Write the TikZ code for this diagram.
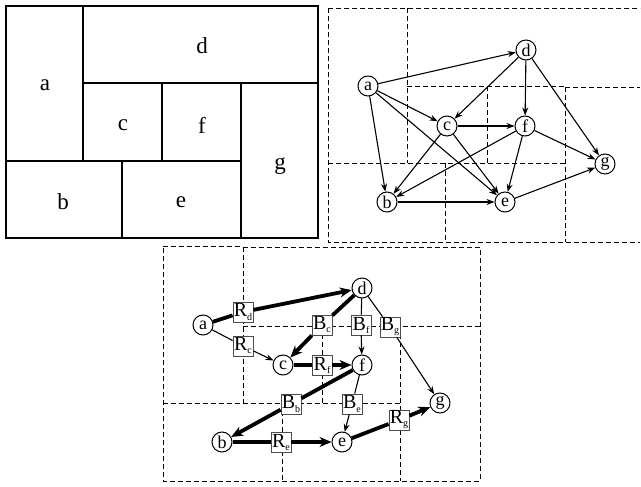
\documentclass[tikz,border=0pt]{standalone}
\usepackage{fontspec}
\setmainfont{Liberation Serif}
\usetikzlibrary{arrows.meta}
\newcommand\mylab[2]{#1\raisebox{-3pt}{\fontsize{10}{10}\selectfont #2}}
\begin{document}
\begin{tikzpicture}[x=1pt,y=-1pt,
  plan/.style={line width=2.6pt, line cap=rect},
  dline/.style={dash pattern=on 5pt off 3pt, line width=0.9pt},
  plabel/.style={font=\fontsize{23}{23}\selectfont, inner sep=0pt},
  vtx/.style={circle, draw, line width=1pt, fill=white, inner sep=0pt, minimum size=20pt, font=\fontsize{18}{18}\selectfont},
  edg/.style={line width=1.1pt, -{Stealth[length=8pt,width=6pt]}},
  thin/.style={line width=1.1pt},
  thk/.style={line width=3.8pt, -{Stealth[length=12pt,width=10pt]}},
  thkn/.style={line width=3.8pt},
  lbl/.style={draw=black!70, fill=white, line width=0.8pt, minimum width=20pt, minimum height=20pt, inner sep=0.5pt, font=\fontsize{20}{20}\selectfont}
]
\useasboundingbox (0,0) rectangle (641,487);

% ---- floorplan (top left)
\draw[plan] (6,6) rectangle (318,238);
\draw[plan] (83,6) -- (83,161);
\draw[plan] (83,83) -- (318,83);
\draw[plan] (6,161) -- (241,161);
\draw[plan] (162,83) -- (162,161);
\draw[plan] (241,83) -- (241,238);
\draw[plan] (122,161) -- (122,238);
\node[plabel] (pa) at (45,85) {a};
\node[plabel] (pd) at (202,46) {d};
\node[plabel] (pc) at (123,125) {c};
\node[plabel] (pf) at (202,125) {f};
\node[plabel] (pg) at (280,166) {g};
\node[plabel] (pb) at (63,202) {b};
\node[plabel] (pe) at (181,202) {e};

% ---- dashed plan (top right)
\draw[dline] (328,8) -- (640,8);
\draw[dline] (328,8) -- (328,242) -- (640,242);
\draw[dline] (407,8) -- (407,163);
\draw[dline] (407,86) -- (565,86);
\draw[dline] (565,87) -- (640,87);
\draw[dline] (487,86) -- (487,163);
\draw[dline] (328,163) -- (565,163);
\draw[dline] (445,163) -- (445,242);
\draw[dline] (565,87) -- (565,242);

% ---- graph (top right)
\node[vtx] (ta) at (368,86) {a};
\node[vtx] (td) at (526,50) {d};
\node[vtx] (tc) at (447,126) {c};
\node[vtx] (tf) at (525,126) {f};
\node[vtx] (tg) at (605,164) {g};
\node[vtx] (tb) at (387,202) {b};
\node[vtx] (te) at (505,202) {e};
\draw[edg] (ta) -- (td);
\draw[edg] (ta) -- (tc);
\draw[edg] (ta) -- (te);
\draw[edg] (ta) -- (tb);
\draw[edg] (td) -- (tc);
\draw[edg] (td) -- (tf);
\draw[edg] (td) -- (tg);
\draw[edg] (tc) -- (tf);
\draw[edg] (tc) -- (tb);
\draw[edg] (tc) -- (te);
\draw[edg] (tf) -- (tb);
\draw[edg] (tf) -- (te);
\draw[edg] (tf) -- (tg);
\draw[edg] (tb) -- (te);
\draw[edg] (te) -- (tg);

% ---- dashed plan (bottom)
\draw[dline] (163,246) -- (243,246);
\draw[dline] (243,247) -- (480,247) -- (480,481) -- (163,481) -- (163,246);
\draw[dline] (243,247) -- (243,403);
\draw[dline] (243,326) -- (480,326);
\draw[dline] (322,326) -- (322,403);
\draw[dline] (163,403) -- (400,403);
\draw[dline] (282,403) -- (282,481);
\draw[dline] (400,326) -- (400,481);

% ---- graph (bottom)
\node[vtx] (ba) at (203,325) {a};
\node[vtx] (bd) at (362,288) {d};
\node[vtx] (bc) at (283,365) {c};
\node[vtx] (bf) at (362,365) {f};
\node[vtx] (bg) at (440,403) {g};
\node[vtx] (bb) at (222,442) {b};
\node[vtx] (be) at (342,442) {e};

\node[lbl] (Rd) at (243,312) {\mylab{R}{d}};
\node[lbl] (Rc) at (243,346) {\mylab{R}{c}};
\node[lbl] (Bc) at (322,325) {\mylab{B}{c}};
\node[lbl] (Bf) at (361,325) {\mylab{B}{f}};
\node[lbl] (Bg) at (390,327) {\mylab{B}{g}};
\node[lbl] (Rf) at (322,365) {\mylab{R}{f}};
\node[lbl] (Bb) at (291,404) {\mylab{B}{b}};
\node[lbl] (Be) at (352,404) {\mylab{B}{e}};
\node[lbl] (Re) at (281,442) {\mylab{R}{e}};
\node[lbl] (Rg) at (399,420) {\mylab{R}{g}};

\draw[thkn] (ba) -- (Rd);
\draw[thk] (Rd) -- (bd);
\draw[thin] (ba) -- (Rc);
\draw[edg] (Rc) -- (bc);
\draw[thkn] (bd) -- (Bc);
\draw[thk] (Bc) -- (bc);
\draw[thin] (bd) -- (Bf);
\draw[edg] (Bf) -- (bf);
\draw[thin] (bd) -- (Bg);
\draw[edg] (Bg) -- (bg);
\draw[thkn] (bc) -- (Rf);
\draw[thk] (Rf) -- (bf);
\draw[thkn] (bf) -- (Bb);
\draw[thk] (Bb) -- (bb);
\draw[thin] (bf) -- (Be);
\draw[edg] (Be) -- (be);
\draw[thkn] (bb) -- (Re);
\draw[thk] (Re) -- (be);
\draw[thkn] (be) -- (Rg);
\draw[thk] (Rg) -- (bg);
\end{tikzpicture}
\end{document}
